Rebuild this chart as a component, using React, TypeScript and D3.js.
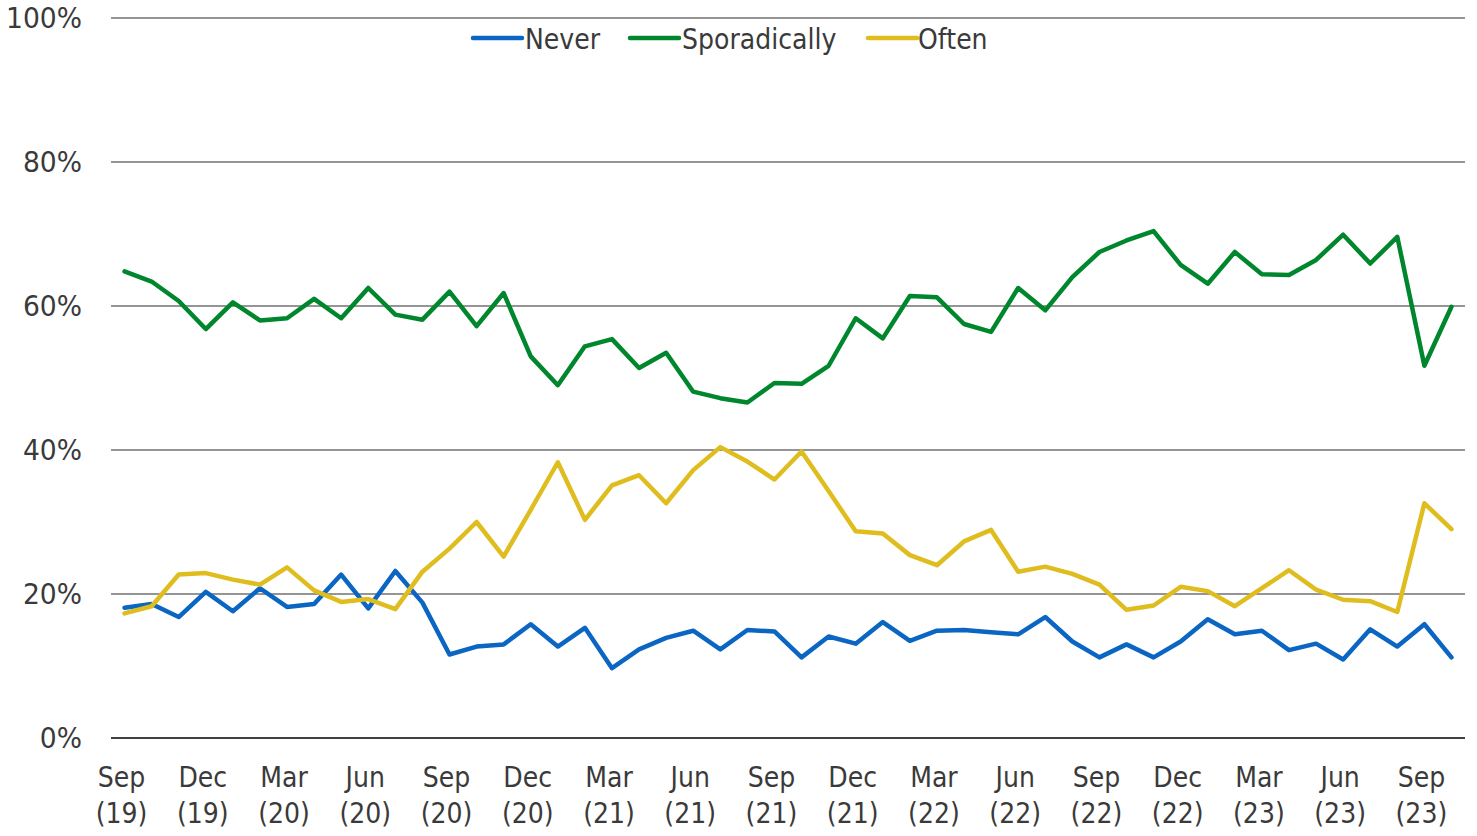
import React from "react";
import * as d3 from "d3";

// Monthly observations, Sep 2019 .. Oct 2023 (50 months)
const monthCategories: string[] = d3
  .timeMonth.range(new Date(2019, 8, 1), new Date(2023, 10, 1))
  .map((d) => d3.timeFormat("%Y-%m")(d));

const never = [
  18.1, 18.6, 16.8, 20.3, 17.6, 20.8, 18.2, 18.6, 22.7, 18.0,
  23.2, 18.8, 11.6, 12.7, 13.0, 15.8, 12.7, 15.3, 9.7, 12.3,
  13.9, 14.9, 12.3, 15.0, 14.8, 11.2, 14.1, 13.1, 16.1, 13.5,
  14.9, 15.0, 14.7, 14.4, 16.8, 13.4, 11.2, 13.0, 11.2, 13.4,
  16.5, 14.4, 14.9, 12.2, 13.1, 10.9, 15.1, 12.7, 15.8, 11.2,
];

const sporadically = [
  64.8, 63.4, 60.7, 56.8, 60.5, 58.0, 58.3, 61.0, 58.3, 62.5,
  58.8, 58.1, 62.0, 57.2, 61.8, 53.0, 49.0, 54.4, 55.4, 51.4,
  53.5, 48.1, 47.2, 46.6, 49.3, 49.2, 51.7, 58.3, 55.5, 61.4,
  61.2, 57.5, 56.4, 62.5, 59.4, 64.0, 67.5, 69.1, 70.4, 65.7,
  63.1, 67.5, 64.4, 64.3, 66.4, 69.9, 65.9, 69.6, 51.7, 59.9,
];

const often = [
  17.3, 18.3, 22.7, 22.9, 22.0, 21.3, 23.7, 20.5, 18.9, 19.3,
  17.9, 23.1, 26.3, 30.0, 25.2, 31.7, 38.3, 30.3, 35.1, 36.5,
  32.6, 37.2, 40.4, 38.4, 35.9, 39.8, 34.3, 28.7, 28.4, 25.4,
  24.0, 27.3, 28.9, 23.1, 23.8, 22.8, 21.3, 17.8, 18.4, 21.0,
  20.4, 18.3, 20.8, 23.3, 20.6, 19.2, 19.0, 17.5, 32.6, 29.0,
];

const seriesNames = ["Never", "Sporadically", "Often"];
const seriesColors = ["#0a66c2", "#00872e", "#dfbd1f"];
const seriesValues = [never, sporadically, often];

const yTicks = [0, 20, 40, 60, 80, 100];

const xTickMonths = ["Sep", "Dec", "Mar", "Jun", "Sep", "Dec", "Mar", "Jun", "Sep", "Dec", "Mar", "Jun", "Sep", "Dec", "Mar", "Jun", "Sep"];
const xTickYears = ["(19)", "(19)", "(20)", "(20)", "(20)", "(20)", "(21)", "(21)", "(21)", "(21)", "(22)", "(22)", "(22)", "(22)", "(23)", "(23)", "(23)"];
const xTickCategories = ["2019-09", "2019-12", "2020-03", "2020-06", "2020-09", "2020-12", "2021-03", "2021-06", "2021-09", "2021-12", "2022-03", "2022-06", "2022-09", "2022-12", "2023-03", "2023-06", "2023-09"];

const W = 1477;
const H = 836;
const plotLeft = 111;
const plotRight = 1465;
const plotTop = 18;
const plotBottom = 738;

const FONT = "Tahoma, 'DejaVu Sans', Verdana, sans-serif";
const TEXT = "#3a3a3a";

export default function App() {
  const x = d3
    .scalePoint<string>()
    .domain(monthCategories)
    .range([plotLeft, plotRight])
    .padding(0.5);
  const y = d3.scaleLinear().domain([0, 100]).range([plotBottom, plotTop]);

  const line = d3
    .line<number>()
    .x((_, i) => x(monthCategories[i]) as number)
    .y((d) => y(d));

  const legendItems = [
    { lx: 473, tx: 525 },
    { lx: 630, tx: 682 },
    { lx: 868, tx: 918 },
  ];

  return (
    <svg
      width={W}
      height={H}
      style={{ position: "absolute", left: 0, top: 0, display: "block", background: "#fff" }}
    >
      {/* gridlines */}
      {yTicks.map((t) =>
        t === 0 ? null : (
          <line key={"g" + t} x1={plotLeft} x2={plotRight} y1={y(t)} y2={y(t)} stroke="#959595" strokeWidth={1.8} />
        )
      )}
      {/* y labels */}
      {yTicks.map((t) => (
        <text
          key={"yl" + t}
          transform={`translate(82,${y(t) + 10}) scale(0.95,1)`}
          textAnchor="end"
          fontFamily={FONT}
          fontSize={28}
          fill={TEXT}
        >
          {t + "%"}
        </text>
      ))}
      {/* series */}
      {seriesValues.map((vals, si) => (
        <path
          key={"s" + si}
          d={line(vals) as string}
          fill="none"
          stroke={seriesColors[si]}
          strokeWidth={4.5}
          strokeLinejoin="round"
          strokeLinecap="round"
        />
      ))}
      {/* x axis line */}
      <line x1={plotLeft} x2={plotRight} y1={y(0)} y2={y(0)} stroke="#404040" strokeWidth={2} />
      {/* x labels */}
      {xTickCategories.map((c, i) => {
        const cx = (x(c) as number) - 3;
        return (
          <g key={"xl" + i}>
            <text
              transform={`translate(${cx},787) scale(0.9,1)`}
              textAnchor="middle"
              fontFamily={FONT}
              fontSize={28}
              fill={TEXT}
            >
              {xTickMonths[i]}
            </text>
            <text
              transform={`translate(${cx},823) scale(0.9,1)`}
              textAnchor="middle"
              fontFamily={FONT}
              fontSize={28}
              fill={TEXT}
            >
              {xTickYears[i]}
            </text>
          </g>
        );
      })}
      {/* legend */}
      {seriesNames.map((n, i) => (
        <g key={"lg" + i}>
          <line
            x1={legendItems[i].lx}
            x2={legendItems[i].lx + 49}
            y1={38}
            y2={38}
            stroke={seriesColors[i]}
            strokeWidth={4.5}
            strokeLinecap="round"
          />
          <text
            transform={`translate(${legendItems[i].tx},49) scale(0.9,1)`}
            fontFamily={FONT}
            fontSize={28}
            fill={TEXT}
          >
            {n}
          </text>
        </g>
      ))}
    </svg>
  );
}
